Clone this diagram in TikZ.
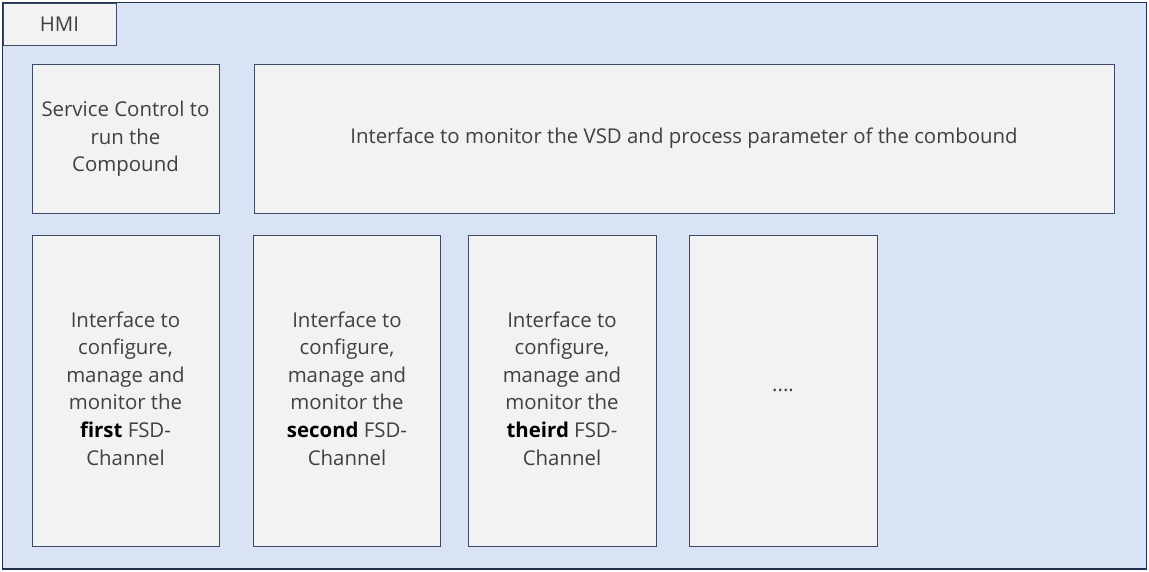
\documentclass[tikz,border=0pt]{standalone}
\usepackage{fontspec}
\setmainfont{Open Sans}
\definecolor{hmiblue}{HTML}{DAE3F3}
\definecolor{boxgray}{HTML}{F2F2F2}
\definecolor{frameline}{HTML}{1F3050}
\definecolor{boxline}{HTML}{3B4A66}
\definecolor{txtgray}{HTML}{404040}
\tikzset{
	panel/.style={draw=boxline,fill=boxgray,line width=0.9pt,inner sep=0pt,text=txtgray,
		font=\fontsize{20.4}{27.6}\selectfont},
}
\begin{document}
\begin{tikzpicture}[x=1pt,y=-1pt]
		\useasboundingbox (0,0) rectangle (1149,572);
		
		\draw[fill=hmiblue,draw=frameline,line width=1.4pt] (2.5,2.5) -- (1146.5,2.5) -- (1146.5,569) -- (2.5,569) -- (2.5,2.5);
		
		\node[panel,minimum width=113,minimum height=42] (hmi) at (59.5,24){HMI};
		
		\node[panel,minimum width=187,minimum height=149] (service) at (125.5,138.5){\begin{tabular}{c}Service Control to\\run the\\Compound\end{tabular}};
		
		\node[panel,minimum width=860,minimum height=149] (monitor) at (684,138.5){Interface to monitor the VSD and process parameter of the combound};
		
		\node[panel,minimum width=187,minimum height=311] (chfirst) at (125.5,390.5){\begin{tabular}{c}Interface to\\configure,\\manage and\\monitor the\\\textcolor{black}{\textbf{first}} FSD-\\Channel\end{tabular}};
		
		\node[panel,minimum width=187,minimum height=311] (chsecond) at (347,390.5){\begin{tabular}{c}Interface to\\configure,\\manage and\\monitor the\\\textcolor{black}{\textbf{second}} FSD-\\Channel\end{tabular}};
		
		\node[panel,minimum width=188,minimum height=311] (chthird) at (562,390.5){\begin{tabular}{c}Interface to\\configure,\\manage and\\monitor the\\\textcolor{black}{\textbf{theird}} FSD-\\Channel\end{tabular}};
		
		\node[panel,minimum width=188,minimum height=311] (chmore) at (783,390.5){....};
	\end{tikzpicture}
\end{document}
